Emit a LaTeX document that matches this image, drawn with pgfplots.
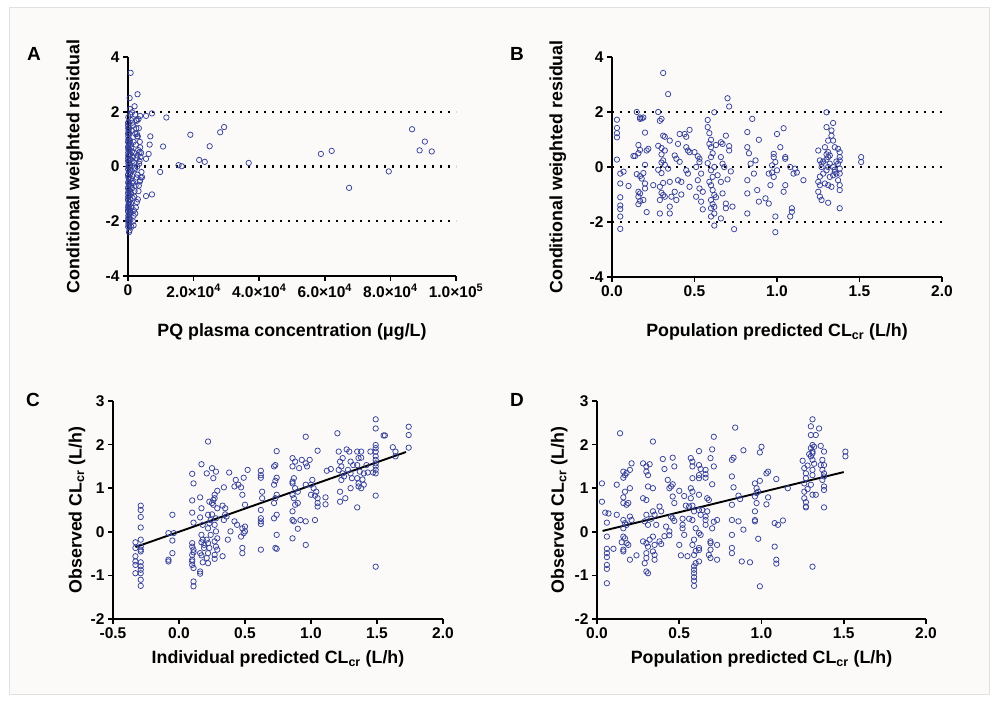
\documentclass[border=0pt]{standalone}
\usepackage{pgfplots}
\pgfplotsset{compat=1.18}
\usepackage{fontspec}
\setmainfont{Liberation Sans}
\definecolor{ptblue}{RGB}{55,65,155}
\definecolor{bgpanel}{RGB}{251,250,248}
\newcommand{\tickfont}{\bfseries\fontsize{15.5}{17}\selectfont}
\newcommand{\labfont}{\bfseries\fontsize{17.8}{20}\selectfont}
\pgfplotsset{
  panel/.style={
    scale only axis, clip=false, enlargelimits=false,
    axis x line*=bottom, axis y line*=left,
    axis line style={line width=1.6pt, black},
    every tick/.style={line width=1.6pt, black},
    major tick length=5pt, tick align=outside,
    ticklabel style={font=\tickfont},
    label style={font=\labfont},
    scaled ticks=false,
  },
  pts/.style={only marks, mark=o, mark size=2.7pt, mark options={line width=0.75pt, draw=ptblue}},
  dots/.style={black, line width=2.4pt, dash pattern=on 2.4pt off 5.6pt, line cap=butt},
  fit/.style={black, line width=1.9pt},
}
\begin{document}
\begin{tikzpicture}
\fill[white] (0pt,0pt) rectangle (998pt,702pt);
\fill[bgpanel, draw={rgb,255:red,225;green,225;blue,225}, line width=0.6pt] (9pt,8pt) rectangle (989pt,695pt);

% Panel A
\begin{axis}[panel, at={(128pt,426pt)}, anchor=south west, width=328pt, height=219pt,
  xmin=0, xmax=100000, ymin=-4, ymax=4,
  xtick={0,20000,40000,60000,80000,100000},
  xticklabels={0, 2.0×10\textsuperscript{4}, 4.0×10\textsuperscript{4}, 6.0×10\textsuperscript{4}, 8.0×10\textsuperscript{4}, 1.0×10\textsuperscript{5}},
  ytick={-4,-2,0,2,4}, yticklabels={-4,-2,0,2,4},
  xlabel={PQ plasma concentration (μg/L)},
  ylabel={Conditional weighted residual},
  xlabel style={at={(axis description cs:0.5,-0.256)}, anchor=center},
  ylabel style={at={(axis description cs:-0.162,0.5)}, anchor=center, rotate=0},
]
\addplot[dots] coordinates {(0,2) (100000,2)};
\addplot[dots] coordinates {(0,0) (100000,0)};
\addplot[dots] coordinates {(0,-2) (100000,-2)};
\addplot[pts] coordinates {
(800,3.42)(2900,2.64)(500,2.5)(2000,2.2)(1200,1.98)(3700,1.85)(3200,1.73)(2700,1.67)(2700,1.19)(3000,1.1)(3700,0.7)(3500,0.52)(4300,-0.39)(3700,-0.5)(2200,-1.72)(1700,-2.15)(500,-2.33)(300,-2.4)
(100,1.8)(200,1.6)(50,1.5)(300,1.4)(150,1.3)(400,1.2)(100,1.1)(250,1.0)(600,0.95)(50,0.9)(350,0.85)(800,0.8)(150,0.75)(1000,0.7)(200,0.65)(450,0.6)(1200,0.55)(100,0.5)(700,0.45)(300,0.4)(1500,0.35)(50,0.3)(900,0.25)(250,0.2)(1800,0.15)(150,0.1)(600,0.05)(400,0)(2000,-0.05)(100,-0.1)(1100,-0.15)(300,-0.2)(700,-0.25)(50,-0.3)(1300,-0.35)(200,-0.4)(900,-0.45)(500,-0.5)(150,-0.55)(1600,-0.6)(350,-0.65)(800,-0.7)(100,-0.75)(1200,-0.8)(250,-0.85)(600,-0.9)(50,-0.95)(1000,-1.0)(400,-1.05)(200,-1.1)(1400,-1.15)(700,-1.2)(100,-1.25)(300,-1.3)(900,-1.35)(500,-1.4)(150,-1.45)(1100,-1.5)(250,-1.55)(600,-1.6)(50,-1.65)(800,-1.7)(350,-1.75)(100,-1.8)(450,-1.85)(200,-1.9)(700,-1.95)(300,-2.0)(150,-2.1)(1000,-2.2)
(2200,1.9)(2500,1.7)(3300,1.4)(2800,1.1)(3600,0.9)(2400,0.8)(3100,0.6)(1900,0.5)(3800,0.35)(2600,0.3)(3400,0.1)(2100,-0.1)(4100,-0.2)(2900,-0.3)(3600,-0.55)(2300,-0.7)(3200,-0.9)(1900,-1.1)(2700,-1.3)(2400,-1.5)(1800,-1.6)(3000,-1.2)(2000,-0.9)(1700,0.9)(1600,1.5)(2200,1.2)(2600,-0.4)(3900,-0.4)(4000,0.5)(1400,0.2)(1300,1.6)(1100,1.3)(1700,-1.8)(1500,-2.0)(900,1.7)(700,1.9)(600,2.1)(400,-2.2)(1200,-0.6)(2800,0.0)(3300,-0.7)(2500,1.4)(2900,0.4)(3500,0.2)
(30,1.6)(30,1.2)(30,0.7)(30,0.2)(30,-0.3)(30,-0.8)(30,-1.2)(30,-1.6)(30,-2.0)(80,1.4)(80,0.9)(80,0.4)(80,-0.1)(80,-0.6)(80,-1.1)(80,-1.5)(80,-1.9)(60,-2.2)(120,0.0)(120,-0.4)(120,0.6)(120,1.0)(120,-1.0)(120,-1.4)
(7300,1.94)(5500,1.85)(11700,1.79)(6800,1.1)(6600,0.8)(6300,0.46)(5500,0.28)(10700,0.73)(9800,-0.2)(7300,-1.02)(5500,-1.08)(19000,1.16)(15400,0.05)(16400,0.01)(21700,0.24)(23400,0.17)(24900,0.74)(28100,1.25)(29300,1.44)(36800,0.13)(58800,0.46)(62100,0.57)(67400,-0.78)(79500,-0.18)(86600,1.36)(88900,0.59)(90500,0.91)(92600,0.55)
};
\end{axis}

% Panel B
\begin{axis}[panel, at={(612pt,425pt)}, anchor=south west, width=330pt, height=220pt,
  xmin=0, xmax=2, ymin=-4, ymax=4,
  xtick={0,0.5,1,1.5,2}, xticklabels={0.0,0.5,1.0,1.5,2.0},
  ytick={-4,-2,0,2,4}, yticklabels={-4,-2,0,2,4},
  xlabel={Population predicted CL\textsubscript{cr} (L/h)},
  ylabel={Conditional weighted residual},
  xlabel style={at={(axis description cs:0.5,-0.25)}, anchor=center},
  ylabel style={at={(axis description cs:-0.164,0.5)}, anchor=center},
]
\addplot[dots] coordinates {(0,2) (2,2)};
\addplot[dots] coordinates {(0,0) (2,0)};
\addplot[dots] coordinates {(0,-2) (2,-2)};
\addplot[pts] coordinates {
(0.03,1.72)(0.03,1.42)(0.03,1.23)(0.03,1.08)(0.03,0.27)(0.05,-0.24)(0.05,-0.6)(0.05,-1.1)(0.05,-1.4)(0.05,-1.53)(0.05,-1.8)(0.05,-2.25)(0.07,-0.17)
(0.1,-0.69)(0.13,0.4)(0.14,0.4)
(0.15,2.0)(0.17,1.8)(0.17,1.75)(0.18,1.77)(0.16,0.8)(0.17,0.62)(0.16,0.5)(0.15,-0.26)(0.17,-0.33)(0.18,-0.42)(0.16,-0.9)(0.17,-0.96)(0.16,-1.08)(0.17,-1.24)(0.16,-1.35)(0.19,-1.2)(0.19,1.8)
(0.2,1.25)(0.21,0.6)(0.22,0.66)(0.2,0.08)(0.19,-0.22)(0.2,-0.6)(0.2,-0.78)(0.21,-1.64)
(0.25,-0.66)
(0.28,2.0)(0.3,1.75)(0.29,1.68)(0.31,1.14)(0.32,1.1)(0.28,0.77)(0.3,0.69)(0.32,0.6)(0.3,0.46)(0.31,0.24)(0.3,0.16)(0.32,0.08)(0.28,-0.1)(0.3,-0.22)(0.31,-0.58)(0.29,-0.72)(0.3,-0.94)(0.31,-1.02)(0.32,-1.08)(0.29,-1.2)(0.29,-1.69)(0.31,3.42)(0.34,2.65)
(0.35,0.96)(0.34,-0.06)(0.35,-0.54)(0.35,-1.44)(0.35,-1.69)(0.36,-1.08)
(0.38,0.42)(0.39,0.3)(0.4,0.84)(0.41,0.19)(0.4,-0.48)(0.38,-0.9)(0.39,-1.2)(0.42,-0.54)(0.41,1.2)(0.42,-1.0)
(0.44,1.2)(0.45,1.1)(0.47,1.35)(0.45,0.72)(0.46,0.6)(0.47,0.54)(0.45,-0.12)(0.46,-0.24)(0.47,-0.72)
(0.5,0.54)(0.52,0.39)(0.53,0.3)(0.51,0.0)(0.54,-0.24)(0.52,-0.48)(0.53,-0.78)(0.55,-0.9)(0.51,-1.08)(0.54,-1.26)(0.55,-1.54)(0.53,0.18)
(0.58,1.71)(0.58,1.45)(0.59,1.23)(0.6,0.99)(0.59,0.84)(0.6,0.72)(0.61,0.5)(0.6,0.36)(0.58,0.14)(0.62,0.0)(0.6,-0.12)(0.61,-0.36)(0.59,-0.54)(0.6,-0.66)(0.61,-0.84)(0.62,-1.02)(0.6,-1.2)(0.61,-1.35)(0.6,-1.5)(0.62,-1.69)(0.6,-1.8)(0.62,-2.13)(0.62,1.99)(0.63,0.8)(0.64,-0.3)(0.63,-1.1)(0.62,-1.45)
(0.66,0.9)(0.67,0.84)(0.66,0.36)(0.67,0.12)(0.68,0.0)(0.66,-0.54)(0.67,-0.96)(0.69,-1.33)(0.69,-1.5)(0.66,-1.87)(0.69,1.14)(0.7,2.5)(0.71,2.2)
(0.71,0.76)(0.71,0.6)(0.72,-0.16)(0.7,-0.45)(0.73,-1.44)(0.74,-2.26)
(0.82,1.27)(0.82,0.72)(0.83,0.5)(0.84,0.12)(0.82,-0.48)(0.82,-0.96)(0.82,-1.69)(0.85,1.75)(0.86,-0.24)
(0.89,0.99)(0.88,-0.84)(0.89,-1.26)(0.87,0.24)
(0.93,-1.14)(0.95,-1.33)(0.96,-0.66)(0.95,-0.24)
(0.98,0.48)(0.98,0.36)(0.99,0.18)(0.97,0.06)(1.0,-0.12)(0.98,-0.36)(1.0,1.2)(0.99,-1.8)(0.99,-2.37)(1.02,0.72)(0.97,-0.2)
(1.04,1.41)(1.05,0.36)(1.05,0.3)(1.05,-0.66)(1.04,-0.9)
(1.08,0.0)(1.1,-0.24)(1.09,-1.5)(1.09,-1.63)(1.08,-1.8)(1.11,-0.06)(1.12,-0.2)
(1.16,-0.48)
(1.25,0.6)(1.26,0.24)(1.27,0.12)(1.25,-0.54)(1.26,-0.66)(1.25,-0.9)(1.26,-1.08)(1.27,-1.2)(1.28,-0.24)(1.27,0.0)(1.26,-0.35)(1.28,0.2)
(1.3,1.99)(1.3,1.45)(1.31,0.96)(1.29,0.72)(1.31,0.54)(1.3,0.46)(1.31,0.36)(1.3,0.27)(1.32,0.12)(1.3,-0.12)(1.32,-0.36)(1.31,-0.66)(1.31,-1.3)(1.31,0.0)(1.29,-0.6)(1.32,0.42)
(1.34,1.6)(1.33,1.33)(1.33,1.14)(1.34,0.96)(1.35,0.72)(1.34,0.0)(1.35,-0.18)(1.34,-0.3)(1.36,-0.24)(1.33,-0.72)(1.35,-0.1)(1.36,0.2)
(1.37,0.66)(1.38,0.54)(1.38,0.36)(1.37,0.12)(1.38,-0.06)(1.38,-0.24)(1.37,-0.48)(1.38,-0.66)(1.38,-0.84)(1.38,-1.5)(1.38,0.24)
(1.51,0.36)(1.51,0.18)
};
\end{axis}

% Panel C
\begin{axis}[panel, at={(113pt,83pt)}, anchor=south west, width=330pt, height=218pt,
  xmin=-0.5, xmax=2, ymin=-2, ymax=3,
  xtick={-0.5,0,0.5,1,1.5,2}, xticklabels={-0.5,0.0,0.5,1.0,1.5,2.0},
  ytick={-2,-1,0,1,2,3}, yticklabels={-2,-1,0,1,2,3},
  xlabel={Individual predicted CL\textsubscript{cr} (L/h)},
  ylabel={Observed CL\textsubscript{cr} (L/h)},
  xlabel style={at={(axis description cs:0.5,-0.183)}, anchor=center},
  ylabel style={at={(axis description cs:-0.109,0.5)}, anchor=center},
]
\addplot[pts] coordinates {
(-0.33,-0.24)(-0.33,-0.37)(-0.33,-0.56)(-0.33,-0.68)(-0.33,-0.76)(-0.33,-0.95)
(-0.29,0.6)(-0.29,0.5)(-0.29,0.34)(-0.29,0.1)(-0.29,-0.18)(-0.29,-0.41)(-0.29,-0.7)(-0.29,-0.79)(-0.29,-0.87)(-0.29,-0.95)(-0.29,-1.1)(-0.29,-1.24)(-0.29,-0.34)(-0.29,-0.45)
(-0.08,-0.03)(-0.08,-0.64)(-0.08,-0.68)
(-0.05,0.39)(-0.05,-0.2)(-0.05,-0.49)(-0.04,-0.03)
(0.1,1.33)(0.11,1.11)(0.1,0.72)(0.1,0.44)(0.11,0.21)(0.1,-0.26)(0.1,-0.34)(0.11,-0.41)(0.1,-0.53)(0.1,-0.64)(0.1,-0.76)(0.11,-0.83)(0.11,-1.14)(0.11,-1.25)(0.1,-0.68)(0.11,-0.47)
(0.17,1.55)(0.16,0.79)(0.17,0.54)(0.16,0.33)(0.18,0.16)(0.17,-0.07)(0.18,-0.18)(0.17,-0.24)(0.19,-0.3)(0.16,-0.49)(0.17,-0.54)(0.16,-0.91)(0.16,-0.96)(0.18,-0.7)(0.19,-0.37)
(0.22,2.07)(0.21,1.34)(0.25,1.46)(0.26,1.23)(0.23,0.69)(0.25,0.66)(0.22,0.39)(0.24,0.27)(0.23,0.2)(0.22,0.08)(0.24,-0.07)(0.21,-0.18)(0.22,-0.26)(0.23,-0.37)(0.22,-0.49)(0.21,-0.6)(0.22,-0.72)(0.25,0.4)
(0.28,1.38)(0.27,0.85)(0.27,0.77)(0.26,0.62)(0.29,0.54)(0.28,0.31)(0.27,0.16)(0.28,0.01)(0.29,-0.15)(0.27,-0.22)(0.28,-0.34)(0.29,-0.41)(0.27,-0.53)(0.27,-0.62)(0.29,0.94)(0.26,0.73)
(0.34,1.02)(0.33,0.6)(0.35,0.54)(0.36,0.35)(0.34,0.27)(0.37,-0.18)(0.33,-0.56)(0.38,1.36)(0.35,0.4)(0.39,0.01)
(0.43,1.19)(0.45,1.08)(0.47,1.02)(0.48,0.85)(0.42,0.24)(0.44,0.16)(0.48,0.08)(0.49,-0.03)(0.47,-0.11)(0.48,-0.37)(0.48,-0.49)(0.49,1.24)(0.42,1.04)
(0.52,1.42)(0.5,0.62)(0.5,0.12)(0.5,0.01)
(0.62,1.4)(0.62,1.3)(0.62,1.24)(0.63,0.92)(0.63,0.77)(0.62,0.5)(0.62,0.31)(0.62,0.24)(0.62,0.18)(0.62,-0.41)
(0.74,1.85)(0.73,1.53)(0.72,1.5)(0.74,1.24)(0.73,1.17)(0.72,1.08)(0.74,0.85)(0.73,0.77)(0.72,0.66)(0.74,0.39)(0.72,0.31)(0.74,-0.07)(0.73,-0.37)(0.74,-0.39)
(0.86,1.69)(0.88,1.61)(0.86,1.5)(0.87,1.23)(0.86,1.15)(0.88,1.0)(0.86,0.85)(0.87,0.77)(0.88,0.62)(0.86,0.47)(0.86,0.27)(0.87,0.24)(0.86,-0.15)(0.86,1.11)
(0.93,1.65)(0.91,1.46)(0.9,0.66)(0.92,0.27)(0.9,0.07)(0.9,0.92)
(0.96,2.18)(0.96,1.57)(0.97,1.5)(0.96,1.08)(0.96,0.24)(0.96,-0.3)
(1.01,1.19)(1.0,1.08)(1.02,1.0)(1.04,0.92)(1.0,0.85)(1.05,0.77)(1.05,0.66)(1.05,0.58)(1.05,1.86)(1.03,0.27)(0.99,1.65)(1.03,0.83)
(1.12,1.4)(1.11,0.79)(1.11,0.63)(1.15,1.44)
(1.2,2.26)(1.21,1.84)(1.22,1.61)(1.23,1.5)(1.21,1.42)(1.24,1.34)(1.22,0.92)(1.22,0.69)(1.24,1.69)(1.25,1.27)(1.23,1.19)(1.26,0.77)(1.27,1.89)
(1.29,1.84)(1.3,1.61)(1.28,1.42)(1.3,1.34)(1.31,1.23)(1.3,1.0)(1.32,1.53)
(1.35,1.84)(1.36,1.69)(1.35,1.53)(1.37,1.38)(1.35,1.23)(1.36,1.11)(1.36,1.04)(1.35,0.56)(1.38,1.84)(1.38,1.7)(1.4,1.34)(1.38,1.0)(1.39,1.2)
(1.42,1.53)(1.43,1.36)(1.4,1.08)(1.45,1.84)(1.47,1.36)
(1.49,2.58)(1.49,2.37)(1.49,1.99)(1.49,1.92)(1.49,1.84)(1.49,1.73)(1.49,1.65)(1.49,1.57)(1.49,1.42)(1.49,0.83)(1.49,-0.8)(1.49,1.5)(1.49,1.34)
(1.55,2.21)(1.56,2.21)
(1.62,1.94)(1.64,1.84)(1.64,1.73)
(1.74,2.41)(1.74,2.22)(1.74,1.93)
};
\addplot[fit] coordinates {(-0.33,-0.35) (1.72,1.83)};
\end{axis}

% Panel D
\begin{axis}[panel, at={(597pt,83pt)}, anchor=south west, width=329pt, height=218pt,
  xmin=0, xmax=2, ymin=-2, ymax=3,
  xtick={0,0.5,1,1.5,2}, xticklabels={0.0,0.5,1.0,1.5,2.0},
  ytick={-2,-1,0,1,2,3}, yticklabels={-2,-1,0,1,2,3},
  xlabel={Population predicted CL\textsubscript{cr} (L/h)},
  ylabel={Observed CL\textsubscript{cr} (L/h)},
  xlabel style={at={(axis description cs:0.5,-0.183)}, anchor=center},
  ylabel style={at={(axis description cs:-0.115,0.5)}, anchor=center},
]
\addplot[pts] coordinates {
(0.03,1.11)(0.03,0.69)
(0.05,0.44)(0.06,0.21)(0.06,-0.11)(0.06,-0.39)(0.06,-0.49)(0.06,-0.58)(0.06,-0.76)(0.06,-0.85)(0.06,-1.18)(0.07,0.42)
(0.1,-0.39)(0.12,1.08)(0.12,0.39)(0.14,2.26)
(0.16,1.38)(0.17,1.3)(0.16,1.24)(0.2,1.0)(0.17,0.92)(0.16,0.79)(0.16,0.66)(0.18,0.62)(0.2,0.35)(0.16,0.27)(0.17,0.2)(0.18,0.16)(0.16,0.08)(0.16,-0.11)(0.17,-0.15)(0.15,-0.24)(0.19,-0.3)(0.16,-0.41)(0.16,-0.45)(0.2,-0.64)(0.21,1.57)(0.2,1.42)(0.19,0.66)(0.18,-0.26)(0.21,0.27)(0.18,1.35)
(0.24,-0.54)
(0.28,1.57)(0.3,1.5)(0.3,1.38)(0.31,1.3)(0.31,1.04)(0.28,0.77)(0.3,0.73)(0.3,0.39)(0.29,0.24)(0.31,0.16)(0.28,-0.22)(0.3,-0.26)(0.31,-0.34)(0.3,-0.49)(0.3,-0.6)(0.29,-0.72)(0.3,-0.91)(0.31,-0.95)(0.32,-0.18)(0.32,1.55)
(0.34,2.07)(0.34,1.0)(0.34,0.47)(0.35,0.39)(0.34,-0.11)(0.35,-0.3)(0.34,-0.45)(0.35,-0.53)(0.35,-0.64)(0.36,0.16)(0.33,0.3)
(0.38,0.58)(0.39,0.47)(0.38,-0.22)(0.39,-0.28)(0.4,1.67)(0.41,1.44)(0.42,0.12)(0.41,-0.1)
(0.43,1.19)(0.45,1.04)(0.44,1.0)(0.46,1.09)(0.46,1.7)(0.47,1.5)(0.46,0.81)(0.47,0.66)(0.46,0.31)(0.47,0.25)(0.44,0.01)(0.44,-0.08)(0.45,0.35)
(0.5,0.94)(0.53,0.82)(0.52,0.16)(0.52,0.08)(0.53,-0.07)(0.5,-0.3)(0.51,-0.54)(0.55,-0.56)(0.54,0.6)(0.52,0.3)
(0.57,1.69)(0.58,1.61)(0.58,1.5)(0.57,1.0)(0.58,0.92)(0.57,0.77)(0.58,0.6)(0.56,0.58)(0.59,0.47)(0.58,0.27)(0.6,0.08)(0.59,-0.18)(0.58,-0.3)(0.6,-0.44)(0.59,-0.53)(0.6,-0.72)(0.59,-0.79)(0.59,-0.87)(0.59,-0.95)(0.59,-1.04)(0.59,-1.12)(0.59,-1.24)(0.58,1.23)(0.56,0.3)
(0.62,1.85)(0.62,1.53)(0.63,1.44)(0.62,1.3)(0.62,1.23)(0.62,0.85)(0.62,0.5)(0.63,0.39)(0.62,-0.03)(0.63,-0.07)(0.62,-0.37)(0.62,-0.68)(0.64,0.5)(0.62,-0.42)
(0.66,1.42)(0.66,1.32)(0.66,1.24)(0.67,0.77)(0.68,0.73)(0.67,0.47)(0.66,0.35)(0.66,0.27)(0.66,0.16)(0.69,-0.22)(0.69,-0.26)(0.69,-0.41)(0.68,-0.53)(0.69,-0.6)(0.7,1.89)(0.71,2.18)(0.71,1.5)(0.69,1.69)(0.7,1.09)(0.7,0.08)(0.71,0.23)
(0.73,0.27)(0.73,-0.3)(0.73,-0.64)
(0.82,1.65)(0.83,1.7)(0.82,1.27)(0.83,1.02)(0.82,0.62)(0.82,0.27)(0.82,-0.07)(0.82,-0.37)(0.82,-0.49)(0.84,2.39)
(0.86,0.83)(0.86,0.24)(0.89,0.05)(0.88,-0.68)(0.89,1.87)(0.87,0.75)
(0.93,-0.7)
(0.96,1.11)(0.97,1.0)(0.98,0.92)(0.96,0.81)(0.97,0.66)(0.96,0.47)(0.96,0.27)(0.96,0.24)(0.98,-0.16)(0.99,-1.25)(0.99,1.82)(1.0,1.95)(0.99,1.17)(0.97,0.89)
(1.03,1.34)(1.04,1.38)(1.04,0.79)(1.03,0.63)
(1.09,1.21)(1.08,0.2)(1.1,0.16)(1.08,-0.34)(1.09,-0.64)(1.09,-0.73)
(1.13,0.26)(1.16,1.0)
(1.25,1.63)(1.26,1.46)(1.27,1.34)(1.27,1.23)(1.26,1.11)(1.26,0.92)(1.26,0.77)(1.27,0.68)(1.27,0.58)(1.27,0.56)(1.28,1.52)(1.28,0.98)
(1.31,2.58)(1.3,2.42)(1.3,2.22)(1.31,1.99)(1.3,1.92)(1.31,1.84)(1.31,1.8)(1.3,1.73)(1.31,1.65)(1.32,1.56)(1.31,1.42)(1.31,1.3)(1.3,1.08)(1.31,0.85)(1.31,-0.8)(1.29,1.78)(1.32,1.95)(1.33,0.85)(1.33,2.22)
(1.35,2.37)(1.36,1.97)(1.37,1.65)(1.38,1.53)(1.37,1.42)(1.38,1.34)(1.38,1.27)(1.37,1.19)(1.38,1.04)(1.38,0.96)(1.38,0.56)(1.38,1.84)(1.36,1.53)
(1.51,1.84)(1.51,1.73)
};
\addplot[fit] coordinates {(0.034,0.02) (1.5,1.37)};
\end{axis}

\node[font=\bfseries\fontsize{19}{21}\selectfont] at (34pt,648pt) {A};
\node[font=\bfseries\fontsize{19}{21}\selectfont] at (517pt,648pt) {B};
\node[font=\bfseries\fontsize{19}{21}\selectfont] at (33pt,302pt) {C};
\node[font=\bfseries\fontsize{19}{21}\selectfont] at (517pt,302pt) {D};
\end{tikzpicture}
\end{document}
